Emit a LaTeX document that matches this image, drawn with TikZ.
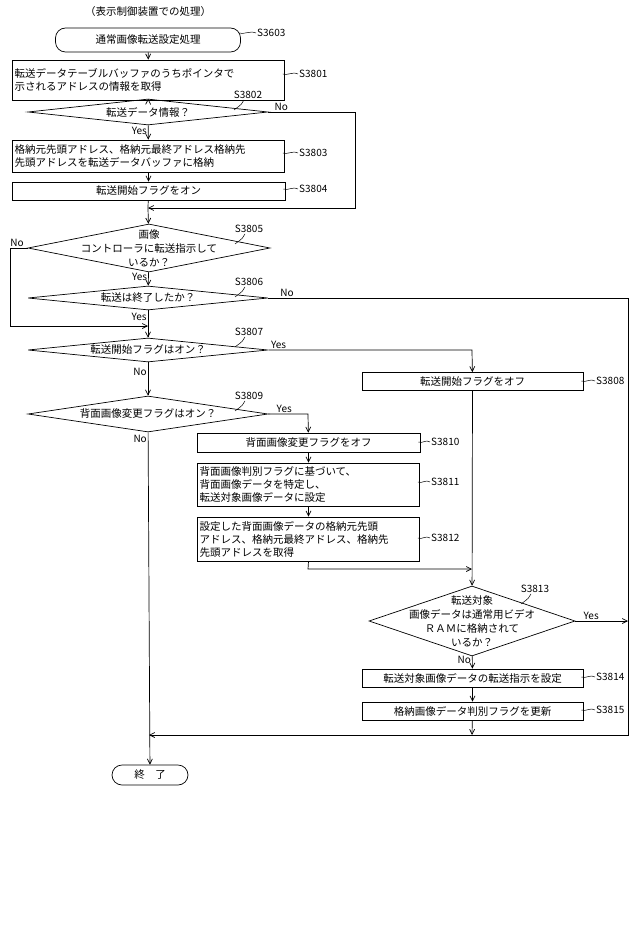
\documentclass[tikz,border=0pt]{standalone}
\usepackage{fontspec}
\setmainfont{Noto Sans CJK JP}
\usetikzlibrary{shapes.geometric,arrows.meta}
\begin{document}
\begin{tikzpicture}[x=1pt,y=-1pt,
  font=\fontsize{10.5}{13}\selectfont,
  >={Straight Barb[length=5pt,width=5pt]},
  line/.style={line width=0.7pt},
  box/.style={draw,line width=0.7pt,rectangle,inner sep=2pt},
  lbox/.style={box,align=left,text width=#1,inner sep=2pt},
  dia/.style={draw,line width=0.7pt,diamond,inner sep=0pt},
  term/.style={draw,line width=0.7pt,rounded corners=10pt,rectangle},
  lab/.style={font=\fontsize{10}{12}\selectfont,inner sep=1pt},
  yn/.style={font=\fontsize{10}{12}\selectfont,inner sep=1pt}]
\useasboundingbox (0,0) rectangle (640,941);

\node (title) at (148,12) {（表示制御装置での処理）};
\node[term,minimum width=185,minimum height=24] (s3603) at (148,40) {通常画像転送設定処理};
\node[lab,anchor=west] (l3603) at (256,33) {S3603};

\node[lbox=268pt,minimum height=40] (s3801) at (148.5,80) {転送データテーブルバッファのうちポインタで\\示されるアドレスの情報を取得};
\node[lab,anchor=west] (l3801) at (298,74) {S3801};

\node[dia,minimum width=240,minimum height=26] (d3802) at (148,112) {};
\node (t3802) at (d3802) {転送データ情報？};
\node[lab] (l3802) at (248,95) {S3802};

\node[lbox=268pt,minimum height=32] (s3803) at (148.5,156) {格納元先頭アドレス、格納元最終アドレス格納先\\先頭アドレスを転送データバッファに格納};
\node[lab,anchor=west] (l3803) at (298,153) {S3803};

\node[box,minimum width=273,minimum height=18] (s3804) at (148.5,191) {転送開始フラグをオン};
\node[lab,anchor=west] (l3804) at (298,189) {S3804};

\node[dia,minimum width=242,minimum height=48] (d3805) at (149,248) {};
\node[align=center,font=\fontsize{10.5}{14}\selectfont] (t3805) at (d3805) {画像\\コントローラに転送指示して\\いるか？};
\node[lab] (l3805) at (249,229) {S3805};

\node[dia,minimum width=240,minimum height=24] (d3806) at (148,298) {};
\node (t3806) at (d3806) {転送は終了したか？};
\node[lab] (l3806) at (249,282) {S3806};

\node[dia,minimum width=240,minimum height=24] (d3807) at (148,350) {};
\node (t3807) at (d3807) {転送開始フラグはオン？};
\node[lab] (l3807) at (249,332) {S3807};

\node[box,minimum width=221,minimum height=18] (s3808) at (472.5,381.5) {転送開始フラグをオフ};
\node[lab,anchor=west] (l3808) at (595,381) {S3808};

\node[dia,minimum width=240,minimum height=36] (d3809) at (148,414) {};
\node (t3809) at (d3809) {背面画像変更フラグはオン？};
\node[lab] (l3809) at (249,396) {S3809};

\node[box,minimum width=223,minimum height=19] (s3810) at (308.5,442.5) {背面画像変更フラグをオフ};
\node[lab,anchor=west] (l3810) at (430,442) {S3810};

\node[lbox=218pt,minimum height=43] (s3811) at (308.5,484.5) {背面画像判別フラグに基づいて、\\背面画像データを特定し、\\転送対象画像データに設定};
\node[lab,anchor=west] (l3811) at (430,482) {S3811};

\node[lbox=218pt,minimum height=44] (s3812) at (308.5,539) {設定した背面画像データの格納元先頭\\アドレス、格納元最終アドレス、格納先\\先頭アドレスを取得};
\node[lab,anchor=west] (l3812) at (430,538) {S3812};

\node[dia,minimum width=206,minimum height=70] (d3813) at (472,621) {};
\node[align=center,font=\fontsize{10.5}{14}\selectfont] (t3813) at (d3813) {転送対象\\画像データは通常用ビデオ\\ＲＡＭに格納されて\\いるか？};
\node[lab] (l3813) at (535,589) {S3813};

\node[box,minimum width=221,minimum height=18] (s3814) at (472.5,678) {転送対象画像データの転送指示を設定};
\node[lab,anchor=west] (l3814) at (595,677) {S3814};

\node[box,minimum width=221,minimum height=18] (s3815) at (472.5,711) {格納画像データ判別フラグを更新};
\node[lab,anchor=west] (l3815) at (595,710) {S3815};

\node[term,minimum width=76,minimum height=20] (end) at (150,775) {終　了};

% leaders
\foreach \b/\l in {s3603/l3603,s3801/l3801,s3803/l3803,s3804/l3804,s3808/l3808,s3810/l3810,s3811/l3811,s3812/l3812,s3814/l3814,s3815/l3815}{
  \draw[line width=0.5pt] (\l.west) .. controls +(-4,-3) and +(4,2) .. ([xshift=-2pt]\l.west -| \b.east);
}
\foreach \l/\d in {l3802/d3802,l3805/d3805,l3806/d3806,l3807/d3807,l3809/d3809,l3813/d3813}{
  \draw[line width=0.5pt] ([xshift=-4pt]\l.south) .. controls +(-2,4) .. +(-10,10);
}

% connectors
\coordinate (j1) at (148,208);
\coordinate (j2) at (148,326);
\coordinate (j3) at (472,569);
\coordinate (j4) at (472,735);
\coordinate (j5) at (149,735);
\draw[line,->] (s3603) -- (s3801);
\draw[line,->] (s3801) -- (d3802);
\draw[line,->] (d3802) -- node[yn,pos=0.4,left] {Yes} (s3803);
\draw[line,->] (s3803) -- (s3804);
\draw[line] (s3804) -- (j1);
\draw[line,->] (d3802.east) -- node[yn,pos=0.15,above] {No} (355,112) -- (355,208) -- (j1);
\draw[line,->] (j1) -- (d3805);
\draw[line,->] (d3805) -- node[yn,pos=0.35,left] {Yes} (d3806);
\draw[line,->] (d3805.west) -- node[yn,pos=0.6,above] {No} (10,248) -- (10,326) -- (j2);
\draw[line] (d3806) -- node[yn,pos=0.4,left] {Yes} (j2);
\draw[line,->] (j2) -- (d3807);
\draw[line,->] (d3807) -- node[yn,pos=0.3,left] {No} (d3809);
\draw[line,->] (d3807.east) -- node[yn,pos=0.05,above] {Yes} (472,350) -- (s3808);
\draw[line,->] (d3809.east) -- node[yn,pos=0.4,above] {Yes} (308,414) -- (s3810);
\draw[line,->] (d3809) -- node[yn,pos=0.02,left] {No} (end);
\draw[line,->] (s3810) -- (s3811);
\draw[line,->] (s3811) -- (s3812);
\draw[line,->] (s3812.south) -- (308,569) -- (j3);
\draw[line,->] (s3808) -- (d3813);
\draw[line,->] (d3813) -- node[yn,pos=0.3,left] {No} (s3814);
\draw[line,->] (s3814) -- (s3815);
\draw[line,->] (s3815) -- (j4);
\draw[line,->] (d3806.east) -- node[yn,pos=0.03,above right] {No} (628,298) -- (628,735) -- (j5);
\draw[line,->] (d3813.east) -- node[yn,pos=0.3,above] {Yes} (628,621);
\end{tikzpicture}
\end{document}
